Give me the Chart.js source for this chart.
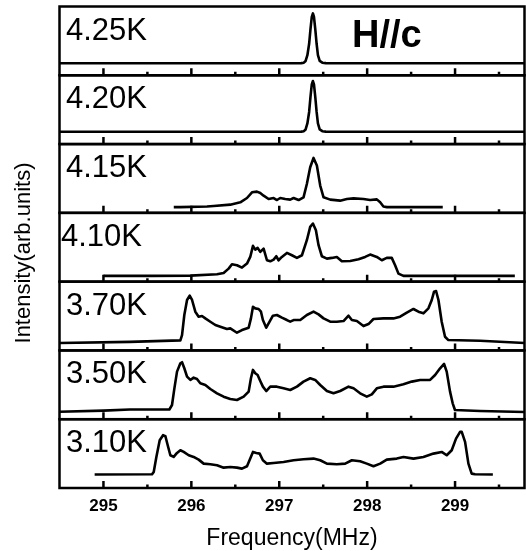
<!DOCTYPE html>
<html>
<head>
<meta charset="utf-8">
<script src="https://cdn.jsdelivr.net/npm/chart.js@4"></script>
<style>
  html, body { margin: 0; padding: 0; background: #fff; }
  #wrap { width: 526px; height: 551px; position: relative; }
</style>
</head>
<body>
<div id="wrap"><canvas id="nmrChart"></canvas></div>
<script>
// panel labels, top to bottom
const temps = ['4.25K', '4.20K', '4.15K', '4.10K', '3.70K', '3.50K', '3.10K'];
const freqTicks = [295, 296, 297, 298, 299];
const minorTicks = [295.5, 296.5, 297.5, 298.5, 299.5];

const freq425 = [294.5, 296.0, 297.0, 297.25, 297.28, 297.30, 297.32, 297.34, 297.355, 297.37, 297.383, 297.395, 297.41, 297.425, 297.44, 297.46, 297.49, 297.53, 298.5, 299.79];
const int425  = [0.11, 0.11, 0.11, 0.112, 0.12, 0.15, 0.25, 0.45, 0.7, 0.92, 0.98, 0.92, 0.7, 0.45, 0.25, 0.15, 0.12, 0.112, 0.11, 0.11];

const freq420 = [294.5, 296.0, 297.0, 297.25, 297.28, 297.30, 297.32, 297.34, 297.355, 297.37, 297.383, 297.395, 297.41, 297.425, 297.44, 297.46, 297.49, 297.53, 298.5, 299.79];
const int420  = [0.115, 0.115, 0.115, 0.117, 0.125, 0.155, 0.26, 0.46, 0.72, 0.94, 1.0, 0.94, 0.72, 0.46, 0.26, 0.155, 0.125, 0.117, 0.115, 0.115];

const freq415 = [295.8, 295.875, 296.178, 296.254, 296.443, 296.557, 296.633, 296.69, 296.746, 296.784, 296.822, 296.879, 296.936, 296.974, 297.011, 297.068, 297.125, 297.163, 297.22, 297.276, 297.314, 297.352, 297.39, 297.428, 297.466, 297.504, 297.58, 297.693, 297.769, 297.845, 297.958, 298.034, 298.11, 298.148, 298.185, 298.224, 298.6, 298.86];
const int415  = [0.0, 0.0, 0.01, 0.02, 0.043, 0.084, 0.159, 0.258, 0.27, 0.246, 0.2, 0.141, 0.159, 0.124, 0.159, 0.141, 0.131, 0.159, 0.124, 0.171, 0.404, 0.695, 0.858, 0.725, 0.376, 0.171, 0.131, 0.113, 0.141, 0.153, 0.141, 0.124, 0.135, 0.084, 0.01, 0.0, 0.0, 0.0];

const freq410 = [295.0, 295.534, 295.989, 296.292, 296.367, 296.424, 296.462, 296.519, 296.576, 296.633, 296.67, 296.701, 296.727, 296.754, 296.784, 296.822, 296.86, 296.898, 296.936, 296.966, 296.992, 297.03, 297.087, 297.144, 297.201, 297.258, 297.314, 297.352, 297.383, 297.417, 297.447, 297.485, 297.542, 297.598, 297.655, 297.712, 297.807, 297.902, 297.977, 298.034, 298.11, 298.167, 298.223, 298.28, 298.318, 298.356, 298.413, 299.0, 299.68];
const int410  = [0.0, 0.0, 0.005, 0.028, 0.052, 0.127, 0.203, 0.186, 0.145, 0.215, 0.331, 0.524, 0.459, 0.489, 0.419, 0.477, 0.273, 0.255, 0.285, 0.343, 0.273, 0.331, 0.401, 0.36, 0.314, 0.36, 0.623, 0.856, 0.914, 0.797, 0.535, 0.343, 0.302, 0.314, 0.331, 0.255, 0.261, 0.29, 0.331, 0.372, 0.331, 0.273, 0.314, 0.314, 0.186, 0.04, 0.0, 0.0, 0.0];

const freq370 = [294.5, 295.3, 295.875, 295.894, 295.92, 295.951, 295.981, 296.008, 296.045, 296.083, 296.121, 296.159, 296.216, 296.273, 296.33, 296.405, 296.443, 296.519, 296.576, 296.652, 296.678, 296.701, 296.727, 296.765, 296.792, 296.814, 296.852, 296.89, 296.928, 296.973, 297.03, 297.087, 297.125, 297.163, 297.239, 297.314, 297.39, 297.447, 297.504, 297.58, 297.655, 297.731, 297.788, 297.826, 297.883, 297.958, 298.015, 298.072, 298.186, 298.299, 298.375, 298.451, 298.527, 298.583, 298.64, 298.697, 298.735, 298.761, 298.784, 298.811, 298.848, 298.886, 298.924, 299.284, 299.79];
const int370  = [0.03, 0.05, 0.075, 0.168, 0.518, 0.78, 0.856, 0.78, 0.576, 0.489, 0.5, 0.459, 0.401, 0.343, 0.314, 0.273, 0.285, 0.209, 0.255, 0.296, 0.459, 0.663, 0.634, 0.623, 0.576, 0.43, 0.296, 0.401, 0.506, 0.518, 0.471, 0.43, 0.401, 0.43, 0.43, 0.518, 0.576, 0.529, 0.459, 0.401, 0.401, 0.413, 0.506, 0.43, 0.413, 0.325, 0.36, 0.448, 0.459, 0.459, 0.489, 0.559, 0.623, 0.576, 0.547, 0.634, 0.78, 0.926, 0.937, 0.78, 0.401, 0.139, 0.081, 0.069, 0.03];

const freq350 = [294.5, 295.0, 295.3, 295.75, 295.78, 295.807, 295.837, 295.875, 295.894, 295.92, 295.951, 295.989, 296.026, 296.064, 296.102, 296.159, 296.216, 296.292, 296.367, 296.443, 296.519, 296.595, 296.652, 296.678, 296.701, 296.727, 296.754, 296.784, 296.814, 296.852, 296.898, 296.973, 297.049, 297.125, 297.201, 297.276, 297.352, 297.409, 297.466, 297.542, 297.617, 297.693, 297.788, 297.845, 297.92, 297.996, 298.053, 298.11, 298.186, 298.299, 298.413, 298.508, 298.602, 298.716, 298.773, 298.83, 298.875, 298.905, 298.943, 298.973, 298.999, 299.284, 299.79];
const int350  = [0.03, 0.05, 0.07, 0.07, 0.148, 0.439, 0.73, 0.876, 0.894, 0.789, 0.643, 0.585, 0.626, 0.602, 0.526, 0.497, 0.427, 0.352, 0.293, 0.253, 0.235, 0.293, 0.381, 0.614, 0.76, 0.701, 0.672, 0.567, 0.468, 0.392, 0.468, 0.468, 0.439, 0.41, 0.468, 0.556, 0.614, 0.585, 0.497, 0.392, 0.352, 0.392, 0.468, 0.439, 0.352, 0.293, 0.334, 0.439, 0.468, 0.468, 0.509, 0.556, 0.585, 0.585, 0.672, 0.789, 0.864, 0.73, 0.381, 0.177, 0.06, 0.043, 0.026];

const freq310 = [294.9, 295.553, 295.572, 295.602, 295.64, 295.678, 295.705, 295.731, 295.761, 295.799, 295.837, 295.875, 295.913, 295.97, 296.026, 296.083, 296.14, 296.216, 296.292, 296.367, 296.443, 296.519, 296.576, 296.633, 296.67, 296.701, 296.739, 296.777, 296.814, 296.86, 296.936, 297.049, 297.163, 297.276, 297.39, 297.466, 297.542, 297.655, 297.75, 297.826, 297.92, 297.996, 298.072, 298.148, 298.223, 298.337, 298.413, 298.527, 298.64, 298.754, 298.848, 298.905, 298.962, 299.011, 299.057, 299.076, 299.114, 299.152, 299.189, 299.227, 299.43];
const int310  = [0.135, 0.139, 0.18, 0.442, 0.733, 0.821, 0.803, 0.646, 0.471, 0.442, 0.512, 0.559, 0.529, 0.471, 0.442, 0.395, 0.325, 0.314, 0.296, 0.255, 0.267, 0.255, 0.238, 0.279, 0.413, 0.529, 0.512, 0.5, 0.384, 0.325, 0.337, 0.355, 0.384, 0.401, 0.413, 0.384, 0.325, 0.314, 0.325, 0.384, 0.366, 0.325, 0.279, 0.325, 0.395, 0.413, 0.442, 0.413, 0.442, 0.5, 0.529, 0.471, 0.559, 0.762, 0.879, 0.879, 0.704, 0.325, 0.151, 0.139, 0.135];

const spectra = [
  [freq425, int425], [freq420, int420], [freq415, int415], [freq410, int410],
  [freq370, int370], [freq350, int350], [freq310, int310]
];

const FONT = "'Liberation Sans', Arial, Helvetica, sans-serif";
Chart.defaults.font.family = FONT;
Chart.defaults.color = '#000';

const yIds = temps.map((t, i) => 'y' + i);

const datasets = spectra.map(([f, v], i) => ({
  label: temps[i],
  data: f.map((x, j) => ({ x: x, y: v[j] })),
  yAxisID: yIds[i],
  borderColor: '#000',
  borderWidth: 2.6,
  pointRadius: 0,
  tension: 0,
  borderJoinStyle: 'round',
  fill: false
}));

const scales = {
  x: {
    type: 'linear',
    position: 'bottom',
    min: 294.5,
    max: 299.79,
    afterBuildTicks: (scale) => { scale.ticks = freqTicks.map(v => ({ value: v })); },
    grid: { display: false, drawTicks: false },
    border: { display: false },
    ticks: { font: { size: 17, weight: 'bold' }, padding: 8, maxRotation: 0 },
    title: { display: true, text: 'Frequency(MHz)', font: { size: 23 }, padding: { top: 0, bottom: 0 } }
  }
};
// stacked axes are laid out in reverse order, so add bottom panel first
for (let i = yIds.length - 1; i >= 0; i--) {
  scales[yIds[i]] = {
    type: 'linear',
    position: 'left',
    stack: 'panels',
    stackWeight: 1,
    min: -0.1,
    max: 1.1,
    grid: { display: false, drawTicks: false },
    border: { display: false },
    ticks: { display: false }
  };
}

const panelFrame = {
  id: 'panelFrame',
  afterDatasetsDraw(chart) {
    const { ctx, chartArea } = chart;
    const xs = chart.scales.x;
    ctx.save();
    ctx.strokeStyle = '#000';
    ctx.fillStyle = '#000';
    ctx.lineWidth = 2.5;
    yIds.forEach((id, i) => {
      const s = chart.scales[id];
      ctx.strokeRect(chartArea.left, s.top, chartArea.right - chartArea.left, s.bottom - s.top);
      ctx.beginPath();
      freqTicks.forEach(v => {
        const px = xs.getPixelForValue(v);
        ctx.moveTo(px, s.bottom);
        ctx.lineTo(px, s.bottom - 7);
      });
      minorTicks.forEach(v => {
        const px = xs.getPixelForValue(v);
        ctx.moveTo(px, s.bottom);
        ctx.lineTo(px, s.bottom - 3.5);
      });
      ctx.stroke();
      ctx.font = '31px ' + FONT;
      ctx.textAlign = 'left';
      ctx.textBaseline = 'alphabetic';
      ctx.fillText(temps[i], temps[i] === '4.10K' ? 61 : 66, s.top + 33);
    });
    ctx.font = 'bold 38px ' + FONT;
    ctx.fillText('H//c', 352, 47);

    ctx.translate(24, 253);
    ctx.rotate(-Math.PI / 2);
    ctx.font = '22px ' + FONT;
    ctx.textAlign = 'center';
    ctx.textBaseline = 'middle';
    ctx.fillText('Intensity(arb.units)', 0, 0);
    ctx.restore();
  }
};

new Chart(document.getElementById('nmrChart'), {
  type: 'line',
  data: { datasets: datasets },
  options: {
    responsive: true,
    maintainAspectRatio: false,
    animation: false,
    layout: { padding: { left: 59.5, right: 1.5, top: 6.5, bottom: -1 } },
    plugins: { legend: { display: false }, tooltip: { enabled: false } },
    scales: scales
  },
  plugins: [panelFrame]
});
</script>
</body>
</html>
